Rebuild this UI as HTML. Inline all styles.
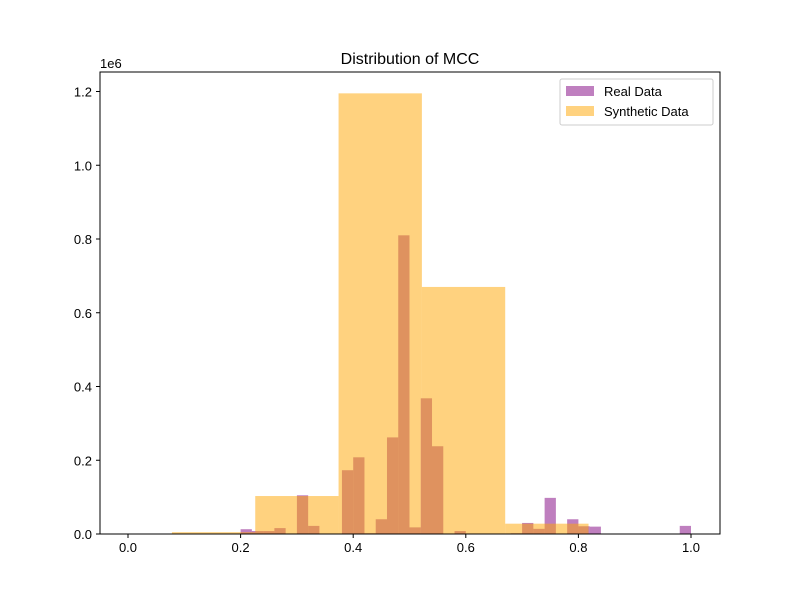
<!DOCTYPE html>
<html><head><meta charset="utf-8"><style>
body{margin:0;background:#fff;font-family:"Liberation Sans","DejaVu Sans",sans-serif}
</style></head><body>
<svg id="chart" width="800" height="600" xmlns="http://www.w3.org/2000/svg" font-family="Liberation Sans, DejaVu Sans, sans-serif">
<rect width="800" height="600" fill="#fff"/>
<text x="410" y="64" font-size="16" text-anchor="middle">Distribution of MCC</text>
<text x="100" y="68" font-size="13">1e6</text>
<g id="bars"></g>
<g id="axes"></g>
<g>
<rect x="560" y="79" width="153" height="46" fill="#fff" stroke="#ccc" rx="2"/>
<rect x="566" y="86" width="28" height="10" fill="purple" fill-opacity="0.5"/>
<text x="604" y="96" font-size="13">Real Data</text>
<rect x="566" y="106" width="28" height="10" fill="orange" fill-opacity="0.5"/>
<text x="604" y="116" font-size="13">Synthetic Data</text>
</g>
</svg>
<script>
const realBinIdx=[10,11,12,13,15,16,19,20,21,22,23,24,25,26,27,28,29,34,35,36,37,39,40,41,49];
const realVals=[0.013,0.008,0.008,0.016,0.105,0.022,0.173,0.208,0.002,0.04,0.262,0.81,0.018,0.368,0.238,0.001,0.008,0.002,0.03,0.014,0.098,0.04,0.021,0.02,0.022];
const synthEdges=[0.078,0.226,0.374,0.522,0.670,0.818];
const synthVals=[0.005,0.103,1.195,0.67,0.028];
const xTicks=[0,0.2,0.4,0.6,0.8,1.0];
const yTicks=[0,0.2,0.4,0.6,0.8,1.0,1.2];
const NS="http://www.w3.org/2000/svg";
const X=v=>128+v*563, Y=v=>534-v*368.75;
const bars=document.getElementById('bars'), axes=document.getElementById('axes');
function rect(x,y,w,h,fill){const r=document.createElementNS(NS,'rect');r.setAttribute('x',x);r.setAttribute('y',y);r.setAttribute('width',w);r.setAttribute('height',h);r.setAttribute('fill',fill);r.setAttribute('fill-opacity','0.5');return r;}
realBinIdx.forEach((b,i)=>{const x0=X(b/50),x1=X((b+1)/50);const r=rect(x0,Y(realVals[i]),x1-x0,534-Y(realVals[i]),'purple');


bars.appendChild(r);});
synthVals.forEach((v,i)=>{const x0=X(synthEdges[i]),x1=X(synthEdges[i+1]);const r=rect(x0,Y(v),x1-x0,534-Y(v),'orange');


bars.appendChild(r);});
let s='<rect x="100" y="72" width="620" height="462" fill="none" stroke="#000" stroke-width="1"/>';
xTicks.forEach(t=>{s+=`<line x1="${X(t)}" x2="${X(t)}" y1="534" y2="538" stroke="#000"/><text x="${X(t)}" y="552" font-size="13" text-anchor="middle">${t.toFixed(1)}</text>`;});
yTicks.forEach(t=>{s+=`<line x1="96" x2="100" y1="${Y(t)}" y2="${Y(t)}" stroke="#000"/><text x="92" y="${Y(t)+5}" font-size="13" text-anchor="end">${t.toFixed(1)}</text>`;});
axes.innerHTML=s;


</script>
</body></html>
